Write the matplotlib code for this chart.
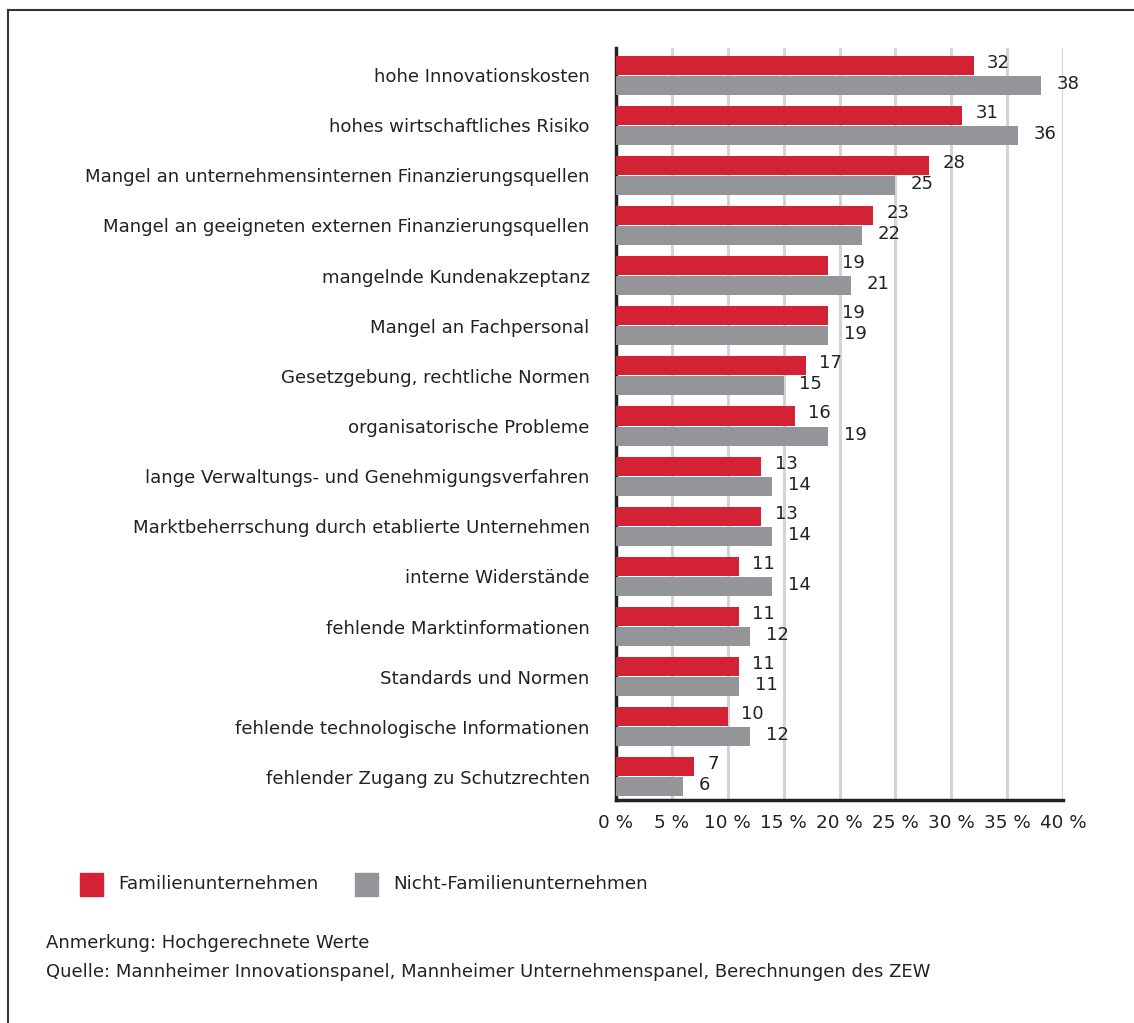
import numpy as np
import matplotlib.pyplot as plt
from matplotlib.patches import Rectangle
from matplotlib.lines import Line2D

categories = ['hohe Innovationskosten',
              'hohes wirtschaftliches Risiko',
              'Mangel an unternehmensinternen Finanzierungsquellen',
              'Mangel an geeigneten externen Finanzierungsquellen',
              'mangelnde Kundenakzeptanz',
              'Mangel an Fachpersonal',
              'Gesetzgebung, rechtliche Normen',
              'organisatorische Probleme',
              'lange Verwaltungs- und Genehmigungsverfahren',
              'Marktbeherrschung durch etablierte Unternehmen',
              'interne Widerstände',
              'fehlende Marktinformationen',
              'Standards und Normen',
              'fehlende technologische Informationen',
              'fehlender Zugang zu Schutzrechten']
familien = [32, 31, 28, 23, 19, 19, 17, 16, 13, 13, 11, 11, 11, 10, 7]
nicht_familien = [38, 36, 25, 22, 21, 19, 15, 19, 14, 14, 14, 12, 11, 12, 6]
xticks = [0, 5, 10, 15, 20, 25, 30, 35, 40]
legend_labels = ['Familienunternehmen', 'Nicht-Familienunternehmen']
notes = ['Anmerkung: Hochgerechnete Werte',
         'Quelle: Mannheimer Innovationspanel, Mannheimer Unternehmenspanel, Berechnungen des ZEW']

red = '#d22233'
grey = '#949599'
txt = '#222222'

plt.rcParams['font.family'] = ['DejaVu Sans']

fig = plt.figure(figsize=(11.34, 10.23), dpi=100)
ax = fig.add_axes([616/1134, 1 - 800/1023, (1063 - 616)/1134, (800 - 48)/1023])

n = len(categories)
y = np.arange(n)
h = 0.38
ax.barh(y - h/2 - 0.01, familien, height=h, color=red, zorder=3)
ax.barh(y + h/2 + 0.01, nicht_familien, height=h, color=grey, zorder=3)

for i in range(n):
    ax.text(familien[i] + 1.2, y[i] - 0.25, str(familien[i]), ha='left', va='center',
            fontsize=13, color=txt, zorder=4)
    ax.text(nicht_familien[i] + 1.4, y[i] + 0.17, str(nicht_familien[i]), ha='left', va='center',
            fontsize=13, color=txt, zorder=4)

ax.set_ylim(n - 0.54, -0.54)
ax.set_xlim(0, 40)
ax.set_yticks(y)
ax.set_yticklabels(categories, fontsize=13.1, color=txt)
ax.set_xticks(xticks)
ax.set_xticklabels([f'{t} %' for t in xticks], fontsize=13.2, color=txt)
ax.tick_params(axis='y', length=0, pad=19)
ax.tick_params(axis='x', length=0, pad=10)
ax.xaxis.grid(True, color='#d4d4d4', linewidth=2.2, zorder=0)
for s in ['top', 'right']:
    ax.spines[s].set_visible(False)
ax.spines['left'].set_linewidth(2.5)
ax.spines['left'].set_color('#222222')
ax.spines['bottom'].set_linewidth(2.5)
ax.spines['bottom'].set_color('#222222')

# frame around the figure
fig.add_artist(Line2D([8/1134, 8/1134], [0, 1 - 10/1023], transform=fig.transFigure,
                      color='#333333', linewidth=1.5))
fig.add_artist(Line2D([8/1134, 1], [1 - 10/1023, 1 - 10/1023], transform=fig.transFigure,
                      color='#333333', linewidth=1.5))

# legend
ly = 1 - 884/1023
for lab, col, x0 in zip(legend_labels, [red, grey], [80, 355]):
    fig.add_artist(Rectangle((x0/1134, ly - 11.5/1023), 23/1134, 23/1023,
                             transform=fig.transFigure, color=col))
    fig.text((x0 + 38)/1134, ly, lab, fontsize=13.2, color=txt, va='center')

fig.text(46/1134, 1 - 943/1023, notes[0], fontsize=13, color=txt, va='center')
fig.text(46/1134, 1 - 972/1023, notes[1], fontsize=13, color=txt, va='center')

fig.savefig('out.png', dpi=100, facecolor='white')
